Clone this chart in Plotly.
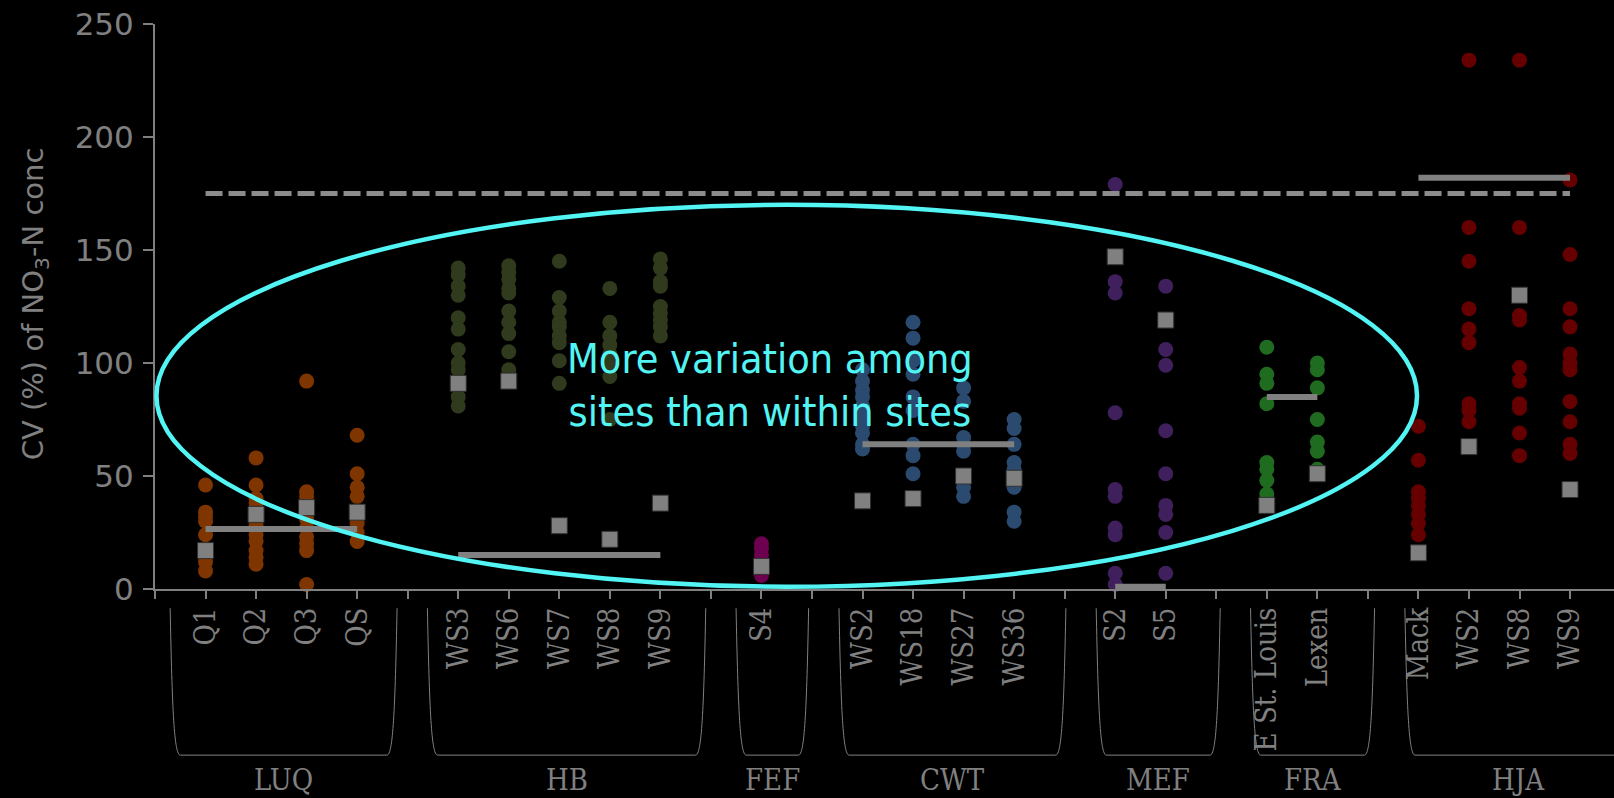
import plotly.graph_objects as go

# ---- data: CV (%) of NO3-N concentration per stream, grouped by site ----
groups = ["LUQ", "HB", "FEF", "CWT", "MEF", "FRA", "HJA"]
group_sites = [
    ["Q1", "Q2", "Q3", "QS"],
    ["WS3", "WS6", "WS7", "WS8", "WS9"],
    ["S4"],
    ["WS2", "WS18", "WS27", "WS36"],
    ["S2", "S5"],
    ["E St. Louis", "Lexen"],
    ["Mack", "WS2", "WS8", "WS9"],
]
group_colors = ["#7F3500", "#303A1C", "#6E0050", "#2B4A6F", "#3F1F5C", "#1F6B1F", "#660000"]

# individual CV values for each stream (circles)
luq_q1 = [46, 34, 32, 30, 24, 12, 8]
luq_q2 = [58, 46, 40, 38, 28, 24, 21, 17, 14, 11]
luq_q3 = [92, 43, 41, 31, 27, 23, 20, 17, 2]
luq_qs = [68, 51, 45, 41, 29, 25, 21]

hb_ws3 = [142, 139, 134, 130, 120, 115, 106, 100, 97, 85, 81]
hb_ws6 = [143, 140, 137, 133, 131, 123, 118, 113, 105, 97]
hb_ws7 = [145, 129, 123, 118, 116, 112, 109, 101, 91]
hb_ws8 = [133, 118, 112, 108, 104, 99, 94, 75]
hb_ws9 = [146, 142, 136, 134, 125, 122, 119, 116, 112]

fef_s4 = [20, 18, 15, 12, 6]

cwt_ws2 = [97, 92, 88, 85, 81, 76, 72, 69, 64, 62]
cwt_ws18 = [118, 111, 101, 95, 85, 79, 64, 59, 51]
cwt_ws27 = [89, 83, 67, 64, 61, 45, 41]
cwt_ws36 = [75, 71, 64, 56, 53, 45, 34, 30]

mef_s2 = [179, 136, 131, 78, 44, 41, 27, 24, 7, 2]
mef_s5 = [134, 106, 99, 70, 51, 37, 33, 25, 7]

fra_esl = [107, 95, 91, 82, 56, 53, 48, 42]
fra_lexen = [100, 97, 89, 75, 65, 61, 53]

hja_mack = [72, 57, 43, 40, 37, 33, 29, 24]
hja_ws2 = [234, 160, 145, 124, 115, 109, 82, 79, 74]
hja_ws8 = [234, 160, 121, 119, 98, 92, 82, 80, 69, 59]
hja_ws9 = [181, 148, 124, 116, 104, 100, 97, 83, 74, 64, 60]

group_values = [
    [luq_q1, luq_q2, luq_q3, luq_qs],
    [hb_ws3, hb_ws6, hb_ws7, hb_ws8, hb_ws9],
    [fef_s4],
    [cwt_ws2, cwt_ws18, cwt_ws27, cwt_ws36],
    [mef_s2, mef_s5],
    [fra_esl, fra_lexen],
    [hja_mack, hja_ws2, hja_ws8, hja_ws9],
]

# CV of the pooled record for each stream (grey squares)
luq_sq = [17, 33, 36, 34]
hb_sq = [91, 92, 28, 22, 38]
fef_sq = [10]
cwt_sq = [39, 40, 50, 49]
mef_sq = [147, 119]
fra_sq = [37, 51]
hja_sq = [16, 63, 130, 44]
group_squares = [luq_sq, hb_sq, fef_sq, cwt_sq, mef_sq, fra_sq, hja_sq]

# among-stream CV within each site (grey bars); None = not drawn
group_means = [26.5, 15, None, 64, 1, 85, 182]

# CV among all sites (dashed line)
overall_cv = 175

# ---- category slots: one empty slot in front of every site group ----
slots = []          # (slot index, stream label)
group_slots = []    # slot indices per group
pos = 0
for sites in group_sites:
    pos += 1
    idx = []
    for s in sites:
        slots.append((pos, s))
        idx.append(pos)
        pos += 1
    pos -= 1
    group_slots.append(idx)
    pos += 1

tickvals = [p for p, _ in slots]
ticktext = [s for _, s in slots]

GRAY = "#808080"
SANS = "DejaVu Sans, sans-serif"
SANS_C = "DejaVu Sans Condensed, DejaVu Sans, sans-serif"
SERIF = "DejaVu Serif Condensed, DejaVu Serif, serif"
CYAN = "#52F4F4"

fig = go.Figure()

# circles
for g, (vals_list, idx, col) in enumerate(zip(group_values, group_slots, group_colors)):
    xs, ys = [], []
    for v, p in zip(vals_list, idx):
        xs += [p] * len(v)
        ys += v
    fig.add_trace(go.Scatter(
        x=xs, y=ys, mode="markers",
        marker=dict(symbol="circle", size=15, color=col, line=dict(width=0)),
        cliponaxis=False, showlegend=False, hoverinfo="skip"))

# among-stream bars per site
for m, idx in zip(group_means, group_slots):
    if m is None:
        continue
    fig.add_trace(go.Scatter(
        x=[idx[0], idx[-1]], y=[m, m], mode="lines",
        line=dict(color=GRAY, width=6), cliponaxis=False,
        showlegend=False, hoverinfo="skip"))

# among-site dashed line
first_slot = group_slots[0][0]
last_slot = group_slots[-1][-1]
fig.add_trace(go.Scatter(
    x=[first_slot, last_slot], y=[overall_cv, overall_cv], mode="lines",
    line=dict(color="#8C8C8C", width=5, dash="17px,6px"),
    showlegend=False, hoverinfo="skip"))

# grey squares
sx, sy = [], []
for sq, idx in zip(group_squares, group_slots):
    sx += idx
    sy += sq
fig.add_trace(go.Scatter(
    x=sx, y=sy, mode="markers",
    marker=dict(symbol="square", size=16, color=GRAY, line=dict(color="#303030", width=1)),
    cliponaxis=False, showlegend=False, hoverinfo="skip"))

# ---- group brackets under the stream labels ----
shapes = []
annotations = []
y_top, y_bot = -0.034, -0.294
y_mid = y_top + 0.7 * (y_bot - y_top)
for name, idx in zip(groups, group_slots):
    L = (idx[0] - 1) + 0.3 + 0.018 * (idx[0] - 1)
    R = (idx[-1] + 1) - 0.3 + 0.018 * (idx[-1] + 1)
    path = (f"M {L},{y_top} C {L+0.04},{y_mid} {L+0.08},{y_bot} {L+0.2},{y_bot} "
            f"L {R-0.2},{y_bot} C {R-0.08},{y_bot} {R-0.04},{y_mid} {R},{y_top}")
    shapes.append(dict(type="path", path=path, xref="x", yref="paper",
                       line=dict(color=GRAY, width=1), layer="above"))
    annotations.append(dict(x=(L + R) / 2, y=-0.338, xref="x", yref="paper",
                            text=name, showarrow=False,
                            font=dict(family=SERIF, size=29, color=GRAY),
                            xanchor="center", yanchor="middle"))

# highlight ellipse and its message
shapes.append(dict(type="circle", xref="paper", yref="paper",
                   x0=0.001, x1=0.865, y0=0.004, y1=0.68,
                   line=dict(color=CYAN, width=4.5), layer="above"))
annotations.append(dict(x=0.4215, y=0.361, xref="paper", yref="paper",
                        text="More variation among<br>sites than within sites",
                        showarrow=False, align="center",
                        font=dict(family=SANS_C, size=41, color=CYAN),
                        xanchor="center", yanchor="middle"))

# y-axis title
annotations.append(dict(x=-0.0825, y=0.505, xref="paper", yref="paper",
                        text="CV (%) of NO<sub>3</sub>-N conc", textangle=-90,
                        showarrow=False,
                        font=dict(family=SANS, size=29, color=GRAY),
                        xanchor="center", yanchor="middle"))

fig.update_layout(
    width=1614, height=798,
    margin=dict(l=155, r=0, t=24, b=209),
    paper_bgcolor="black", plot_bgcolor="black",
    shapes=shapes, annotations=annotations,
    showlegend=False,
)
fig.update_xaxes(
    range=[0, 28.87], tickmode="array", tickvals=tickvals, ticktext=ticktext,
    tickangle=-90, ticks="outside", ticklen=8, tickwidth=2, tickcolor=GRAY,
    minor=dict(ticks="outside", ticklen=8, tickwidth=2, tickcolor=GRAY,
               tick0=0, dtick=1, showgrid=False),
    showline=True, linecolor=GRAY, linewidth=2, showgrid=False, zeroline=False,
    tickfont=dict(family=SERIF, size=29, color=GRAY), ticklabelstandoff=-3,
)
fig.update_yaxes(
    range=[0, 250], tickvals=[0, 50, 100, 150, 200, 250],
    ticks="outside", ticklen=10, tickwidth=2, tickcolor=GRAY,
    showline=True, linecolor=GRAY, linewidth=2, showgrid=False, zeroline=False,
    tickfont=dict(family=SANS, size=31, color=GRAY), ticklabelstandoff=3,
)

fig.write_html("out.html")
